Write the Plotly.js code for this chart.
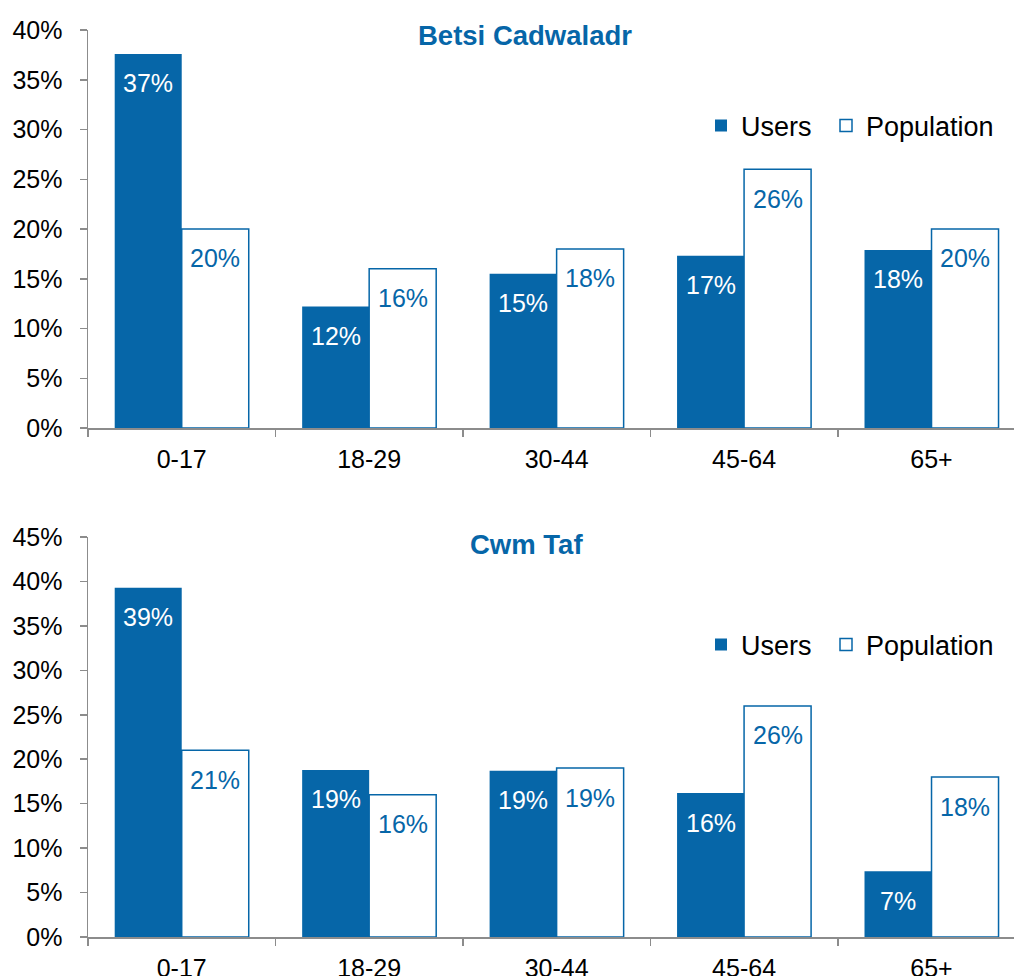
<!DOCTYPE html>
<html>
<head>
<meta charset="utf-8">
<script src="https://cdn.plot.ly/plotly-3.0.1.min.js"></script>
<style>html,body{margin:0;padding:0;overflow:hidden;background:#fff}</style>
</head>
<body>
<div id="chart" style="width:1014px;height:976px"></div>
<script>
const categories = ['0-17', '18-29', '30-44', '45-64', '65+'];
const betsiUsers = [37.6, 12.2, 15.5, 17.3, 17.9];
const betsiPopulation = [20.0, 16.0, 18.0, 26.0, 20.0];
const betsiUsersLabels = ['37%', '12%', '15%', '17%', '18%'];
const betsiPopulationLabels = ['20%', '16%', '18%', '26%', '20%'];
const cwmUsers = [39.3, 18.8, 18.7, 16.2, 7.4];
const cwmPopulation = [21.0, 16.0, 19.0, 26.0, 18.0];
const cwmUsersLabels = ['39%', '19%', '19%', '16%', '7%'];
const cwmPopulationLabels = ['21%', '16%', '19%', '26%', '18%'];
const titles = ['Betsi Cadwaladr', 'Cwm Taf'];

const BLUE = '#0666a8';
const GRAY = '#8c8c8c';
const FONT = 'Liberation Sans, Arial, sans-serif';

function usersTrace(y, xa, ya, legend) {
  return {type: 'bar', name: 'Users', x: categories, y: y, xaxis: xa, yaxis: ya,
    marker: {color: BLUE, line: {width: 0}}, legend: legend, showlegend: true, hoverinfo: 'skip'};
}
function popTrace(y, xa, ya, legend) {
  return {type: 'bar', name: 'Population', x: categories, y: y, xaxis: xa, yaxis: ya,
    marker: {color: '#ffffff', line: {color: BLUE, width: 1.5}}, legend: legend, showlegend: true, hoverinfo: 'skip'};
}

const data = [
  usersTrace(betsiUsers, 'x', 'y', 'legend'),
  popTrace(betsiPopulation, 'x', 'y', 'legend3'),
  usersTrace(cwmUsers, 'x2', 'y2', 'legend2'),
  popTrace(cwmPopulation, 'x2', 'y2', 'legend4')
];

const annotations = [];
function addLabels(vals, labels, xref, yref, shift, color) {
  vals.forEach((v, i) => {
    annotations.push({x: categories[i], y: v, xref: xref, yref: yref, text: labels[i],
      showarrow: false, xshift: shift, yshift: -29.5, yanchor: 'middle', xanchor: 'center',
      font: {family: FONT, size: 25, color: color}});
  });
}
addLabels(betsiUsers, betsiUsersLabels, 'x', 'y', -33.5, '#ffffff');
addLabels(betsiPopulation, betsiPopulationLabels, 'x', 'y', 33.5, BLUE);
addLabels(cwmUsers, cwmUsersLabels, 'x2', 'y2', -33.5, '#ffffff');
addLabels(cwmPopulation, cwmPopulationLabels, 'x2', 'y2', 33.5, BLUE);

annotations.push({text: '<b>' + titles[0] + '</b>', xref: 'paper', yref: 'paper', x: 525/1014, y: 1 - 36/976,
  showarrow: false, xanchor: 'center', yanchor: 'middle', font: {family: FONT, size: 27.5, color: BLUE}});
annotations.push({text: '<b>' + titles[1] + '</b>', xref: 'paper', yref: 'paper', x: 526/1014, y: 1 - 544/976,
  showarrow: false, xanchor: 'center', yanchor: 'middle', font: {family: FONT, size: 27.5, color: BLUE}});

function xaxisCfg(anchor) {
  return {domain: [88/1014, 1], range: [-0.5, 4.44], anchor: anchor, type: 'category',
    showline: true, linecolor: GRAY, linewidth: 1.5, ticks: 'outside', tickson: 'boundaries',
    ticklen: 7, tickcolor: GRAY, tickwidth: 1.5, showgrid: false, zeroline: false,
    tickfont: {family: FONT, size: 25, color: '#000'}, ticklabelstandoff: 8, automargin: false, fixedrange: true};
}
function yaxisCfg(domain, max, anchor) {
  return {domain: domain, range: [0, max], dtick: 5, anchor: anchor, ticksuffix: '%',
    showline: true, linecolor: GRAY, linewidth: 1.5, ticks: 'outside', ticklen: 7,
    tickcolor: GRAY, tickwidth: 1.5, showgrid: false, zeroline: false,
    tickfont: {family: FONT, size: 25, color: '#000'}, ticklabelstandoff: 12, automargin: false, fixedrange: true};
}

const legendCfg = (x, y) => ({orientation: 'h', x: x, y: y, xanchor: 'left', yanchor: 'middle',
  font: {family: FONT, size: 27, color: '#000'}, itemwidth: 30,
  bgcolor: 'rgba(0,0,0,0)', traceorder: 'normal'});

const layout = {
  width: 1014, height: 976,
  margin: {l: 0, r: 0, t: 0, b: 0},
  paper_bgcolor: '#fff', plot_bgcolor: '#fff',
  barmode: 'group', bargap: 0.285, bargroupgap: 0,
  xaxis: xaxisCfg('y'),
  yaxis: yaxisCfg([1 - 428/976, 1 - 30/976], 40, 'x'),
  xaxis2: xaxisCfg('y2'),
  yaxis2: yaxisCfg([1 - 937/976, 1 - 537/976], 45, 'x2'),
  legend: legendCfg(701/1014, 1 - 126/976),
  legend3: legendCfg(826/1014, 1 - 126/976),
  legend2: legendCfg(701/1014, 1 - 645/976),
  legend4: legendCfg(826/1014, 1 - 645/976),
  annotations: annotations,
  showlegend: true
};

Plotly.newPlot('chart', data, layout, {staticPlot: true, displayModeBar: false});
</script>
</body>
</html>
